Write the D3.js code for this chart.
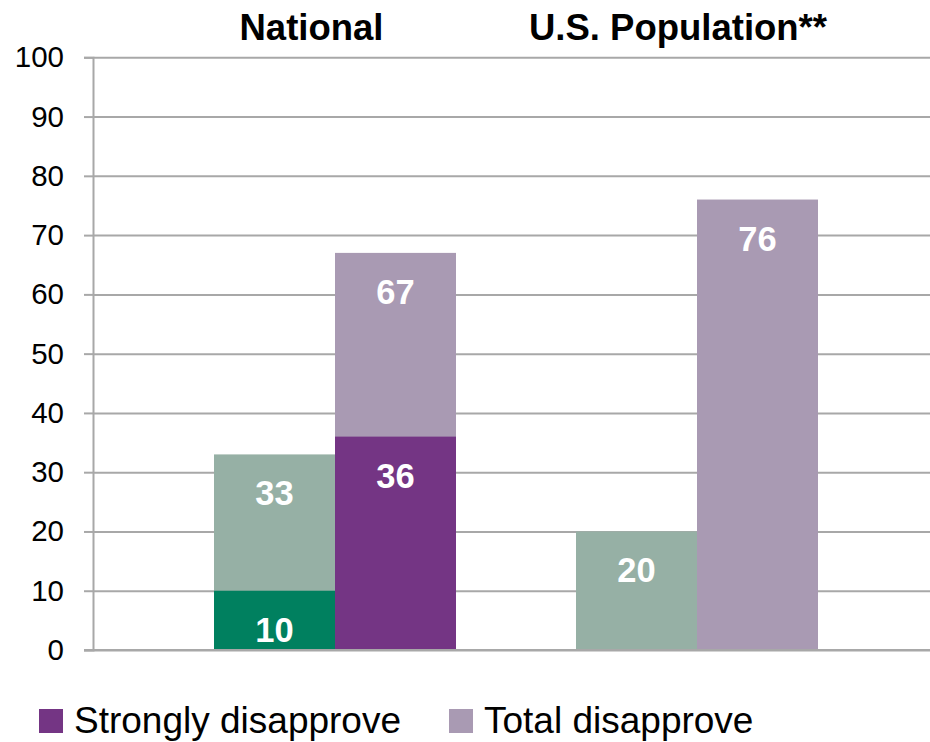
<!DOCTYPE html>
<html>
<head>
<meta charset="utf-8">
<script src="https://cdn.jsdelivr.net/npm/d3@7/dist/d3.min.js"></script>
<style>
  html, body { margin: 0; padding: 0; background: #fff; }
  svg { display: block; font-family: "Liberation Sans", Arial, sans-serif; }
</style>
</head>
<body>
<svg id="chart" width="930" height="742"></svg>
<script>
// ---- data ----
const groups = ["National", "U.S. Population**"];
const subBars = ["approve", "disapprove"];
const totalApprove = [33, 20];
const strongApprove = [10, null];
const totalDisapprove = [67, 76];
const strongDisapprove = [36, null];
const yTicks = [0, 10, 20, 30, 40, 50, 60, 70, 80, 90, 100];
const legendItems = ["Strongly disapprove", "Total disapprove"];

const colors = {
  strongApprove: "#00805f",
  totalApprove: "#96b0a5",
  strongDisapprove: "#743584",
  totalDisapprove: "#a99ab3",
  grid: "#a8a8a8"
};

const svg = d3.select("#chart");
const plotLeft = 93, plotRight = 930;

const y = d3.scaleLinear().domain([0, 100]).range([650, 57.3]);
const x0 = d3.scaleBand().domain(groups).range([154, 878]).paddingInner(0).paddingOuter(0);
const x1 = d3.scaleBand().domain(subBars).range([0, x0.bandwidth()]).paddingInner(0).paddingOuter(0.496);

// gridlines
svg.append("g")
  .attr("transform", `translate(${plotLeft},0)`)
  .call(d3.axisLeft(y).tickValues(yTicks).tickSize(-(plotRight - plotLeft)).tickFormat(""))
  .call(g => g.select(".domain").remove())
  .call(g => g.selectAll(".tick line").attr("stroke", colors.grid).attr("stroke-width", 2));

// y axis with outer ticks & labels
svg.append("g")
  .attr("transform", `translate(${plotLeft},0)`)
  .call(d3.axisLeft(y).tickValues(yTicks).tickSize(9).tickPadding(20))
  .call(g => g.select(".domain").attr("stroke", colors.grid).attr("stroke-width", 2))
  .call(g => g.selectAll(".tick line").attr("stroke", colors.grid).attr("stroke-width", 2))
  .call(g => g.selectAll(".tick text")
    .attr("font-size", 29.5).attr("fill", "#000")
    .attr("font-family", "'Liberation Sans', Arial, sans-serif"));

// build bar records
const bars = [];
groups.forEach((g, i) => {
  bars.push({ group: g, sub: "approve", value: totalApprove[i], color: colors.totalApprove });
  if (strongApprove[i] != null) bars.push({ group: g, sub: "approve", value: strongApprove[i], color: colors.strongApprove });
  bars.push({ group: g, sub: "disapprove", value: totalDisapprove[i], color: colors.totalDisapprove });
  if (strongDisapprove[i] != null) bars.push({ group: g, sub: "disapprove", value: strongDisapprove[i], color: colors.strongDisapprove });
});

const barG = svg.append("g");
barG.selectAll("rect").data(bars).join("rect")
  .attr("x", d => x0(d.group) + x1(d.sub))
  .attr("width", x1.bandwidth())
  .attr("y", d => y(d.value))
  .attr("height", d => y(0) - y(d.value))
  .attr("fill", d => d.color);

// x baseline over bars
svg.append("line")
  .attr("x1", plotLeft - 9).attr("x2", plotRight)
  .attr("y1", y(0)).attr("y2", y(0))
  .attr("stroke", colors.grid).attr("stroke-width", 2);

// data labels (inside end)
barG.selectAll("text").data(bars).join("text")
  .attr("x", d => x0(d.group) + x1(d.sub) + x1.bandwidth() / 2)
  .attr("y", d => y(d.value) + 51)
  .attr("text-anchor", "middle")
  .attr("font-size", 34.5)
  .attr("font-weight", "bold")
  .attr("fill", "#fff")
  .text(d => d.value);

// group titles
const titleX = [311.5, 678];
svg.selectAll("text.title").data(groups).join("text")
  .attr("class", "title")
  .attr("x", (d, i) => titleX[i])
  .attr("y", 40)
  .attr("text-anchor", "middle")
  .attr("font-size", 36.5)
  .attr("font-weight", "bold")
  .attr("fill", "#000")
  .text(d => d);

// legend
const legendX = [39, 449];
const legendColors = [colors.strongDisapprove, colors.totalDisapprove];
const lg = svg.selectAll("g.legend").data(legendItems).join("g")
  .attr("class", "legend")
  .attr("transform", (d, i) => `translate(${legendX[i]},709)`);
lg.append("rect").attr("width", 24).attr("height", 24).attr("fill", (d, i) => legendColors[i]);
lg.append("text").attr("x", 35).attr("y", 24)
  .attr("font-size", 37).attr("fill", "#000").text(d => d);
</script>
</body>
</html>
